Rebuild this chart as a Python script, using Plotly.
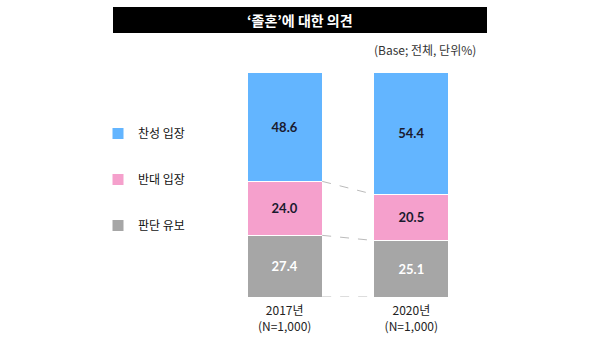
import plotly.graph_objects as go

categories = ["2017년<br>(N=1,000)", "2020년<br>(N=1,000)"]
series_names = ["판단 유보", "반대 입장", "찬성 입장"]
hold = [27.4, 25.1]
oppose = [24.0, 20.5]
agree = [48.6, 54.4]
colors = ["#A6A6A6", "#F5A0CC", "#63B5FF"]
text_colors = ["white", "#1a1a2e", "#1a1a2e"]
legend_ranks = [3, 2, 1]
title_text = "‘졸혼’에 대한 의견"
subtitle_text = "(Base; 전체, 단위%)"

series = [hold, oppose, agree]
bar_width = 0.592
xs = [0, 1]

fig = go.Figure()
for name, vals, col, tc, rk in zip(series_names, series, colors, text_colors, legend_ranks):
    fig.add_trace(go.Bar(
        x=xs, y=vals, name=name, width=bar_width,
        marker=dict(color=col, line=dict(color="white", width=1)),
        text=[f"<b>{v:.1f}</b>" for v in vals], textposition="inside",
        insidetextanchor="middle",
        textfont=dict(color=tc, size=13, family="Lato, Noto Sans CJK KR"),
        legendgroup=name, legendrank=rk,
    ))

# dashed connector lines between cumulative boundaries
cum = [0, 0]
for vals in series[:-1]:
    cum = [c + v for c, v in zip(cum, vals)]
    fig.add_trace(go.Scatter(
        x=[xs[0] + bar_width / 2, xs[1] - bar_width / 2], y=cum,
        mode="lines", line=dict(color="#BBBBBB", width=1, dash="dash"),
        showlegend=False, hoverinfo="skip"))
fig.add_trace(go.Scatter(
    x=[xs[0] + bar_width / 2, xs[1] - bar_width / 2], y=[0, 0],
    mode="lines", line=dict(color="#BBBBBB", width=1, dash="dash"),
    showlegend=False, hoverinfo="skip"))

fig.update_layout(
    width=600, height=357,
    barmode="stack",
    paper_bgcolor="white", plot_bgcolor="white",
    margin=dict(l=196, r=100, t=72, b=60, autoexpand=False),
    font=dict(family="Noto Sans CJK KR", size=12, color="#222"),
    xaxis=dict(range=[-0.7, 1.7], tickmode="array", tickvals=xs, ticktext=categories,
               showgrid=False, zeroline=False, showline=False, ticks="",
               ticklabelstandoff=5,
               tickfont=dict(size=12, color="#222")),
    yaxis=dict(range=[0, 100], visible=False),
    showlegend=True,
    legend=dict(traceorder="grouped", xref="container", yref="container",
                x=98 / 600, y=1 - 119 / 357, xanchor="left", yanchor="top",
                tracegroupgap=27, font=dict(size=12, color="#111"),
                bgcolor="rgba(0,0,0,0)"),
    shapes=[dict(type="rect", xref="paper", yref="paper",
                 x0=(113 - 196) / 304, x1=(487 - 196) / 304,
                 y0=1 + (72 - 33) / 225, y1=1 + (72 - 7) / 225,
                 fillcolor="black", line=dict(width=0), layer="below")],
    annotations=[
        dict(text=f"<b>{title_text}</b>", xref="paper", yref="paper",
             x=(300 - 196) / 304, y=1 + (72 - 20) / 225, showarrow=False,
             font=dict(color="white", size=14), xanchor="center", yanchor="middle"),
        dict(text=subtitle_text, xref="paper", yref="paper",
             x=(478 - 196) / 304, y=1 + (72 - 49) / 225, showarrow=False,
             font=dict(color="#333", size=12), xanchor="right", yanchor="middle"),
    ],
)

fig.write_html("out.html", config={"displayModeBar": False},
               post_script="document.body.style.margin='0';")
